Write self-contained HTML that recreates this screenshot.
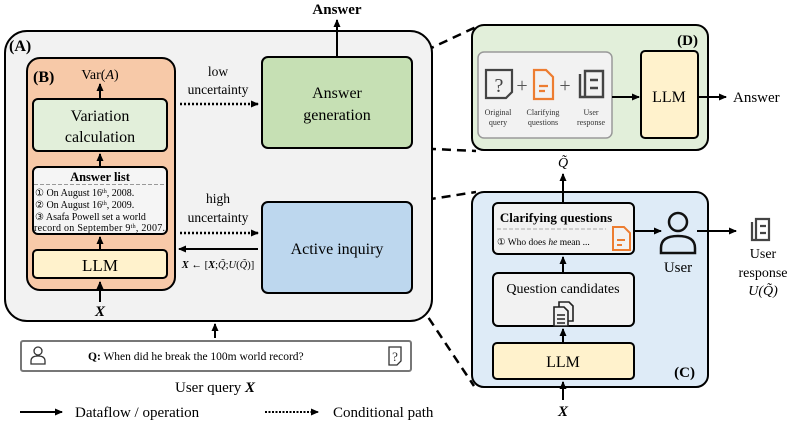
<!DOCTYPE html>
<html><head><meta charset="utf-8"><style>
html,body{margin:0;padding:0;background:#fff;}
svg{display:block;font-family:"Liberation Serif",serif;}
</style></head><body>
<svg width="789" height="427" viewBox="0 0 789 427" xmlns="http://www.w3.org/2000/svg">
<defs>
<marker id="ah" markerWidth="8" markerHeight="8" refX="7" refY="4" orient="auto" markerUnits="userSpaceOnUse"><path d="M0,0.5 L8,4 L0,7.5 z" fill="#000"/></marker>
</defs>
<g stroke="#000" stroke-width="2.5" stroke-dasharray="9,6" fill="none">
<line x1="412" y1="57" x2="476" y2="27"/>
<line x1="412" y1="148" x2="476" y2="151"/>
<line x1="412" y1="202" x2="476" y2="192"/>
<line x1="412" y1="293" x2="474" y2="386"/>
</g>
<rect x="5" y="31" width="427" height="290" rx="22" fill="#f2f2f2" stroke="#000" stroke-width="2"/>
<text x="9" y="51" font-size="16" font-weight="bold">(A)</text>
<rect x="27" y="58" width="148" height="232" rx="13" fill="#f7c9a8" stroke="#000" stroke-width="2"/>
<text x="33" y="82" font-size="16" font-weight="bold">(B)</text>
<text x="100" y="79" font-size="14" text-anchor="middle">Var(<tspan font-style="italic">A</tspan>)</text>
<line x1="100" y1="98" x2="100" y2="84" stroke="#000" stroke-width="2" marker-end="url(#ah)"/>
<rect x="33" y="99" width="134" height="52" rx="5" fill="#e2efda" stroke="#000" stroke-width="2"/>
<text x="100" y="121" font-size="16" text-anchor="middle">Variation</text>
<text x="100" y="142" font-size="16" text-anchor="middle">calculation</text>
<line x1="100" y1="166" x2="100" y2="154" stroke="#000" stroke-width="2" marker-end="url(#ah)"/>
<rect x="33" y="167" width="134" height="67" rx="5" fill="#f5f5f5" stroke="#000" stroke-width="2"/>
<text x="100" y="181" font-size="12.5" font-weight="bold" text-anchor="middle">Answer list</text>
<line x1="34" y1="184.5" x2="166" y2="184.5" stroke="#999" stroke-width="1" stroke-dasharray="4,2"/>
<g font-size="10">
<text x="35" y="196">① On August 16<tspan font-size="6" dy="-3">th</tspan><tspan dy="3">, 2008.</tspan></text>
<text x="35" y="208">② On August 16<tspan font-size="6" dy="-3">th</tspan><tspan dy="3">, 2009.</tspan></text>
<text x="35" y="220">③ Asafa Powell set a world</text>
<text x="34" y="231" textLength="131">record on September 9<tspan font-size="6" dy="-3">th</tspan><tspan dy="3">, 2007.</tspan></text>
</g>
<line x1="100" y1="249" x2="100" y2="237" stroke="#000" stroke-width="2" marker-end="url(#ah)"/>
<rect x="33" y="250" width="134" height="28" rx="4" fill="#fff2cc" stroke="#000" stroke-width="2"/>
<text x="100" y="271" font-size="17" text-anchor="middle">LLM</text>
<line x1="100" y1="302" x2="100" y2="282" stroke="#000" stroke-width="2" marker-end="url(#ah)"/>
<text x="100" y="316" font-size="15" font-weight="bold" font-style="italic" text-anchor="middle">X</text>
<text x="218" y="76" font-size="13.5" text-anchor="middle">low</text>
<text x="218" y="94" font-size="13.5" text-anchor="middle">uncertainty</text>
<line x1="180" y1="104" x2="258" y2="104" stroke="#000" stroke-width="2.5" stroke-dasharray="2,2" marker-end="url(#ah)"/>
<text x="218" y="203" font-size="13.5" text-anchor="middle">high</text>
<text x="218" y="222" font-size="13.5" text-anchor="middle">uncertainty</text>
<line x1="180" y1="233" x2="258" y2="233" stroke="#000" stroke-width="2.5" stroke-dasharray="2,2" marker-end="url(#ah)"/>
<line x1="258" y1="249" x2="179" y2="249" stroke="#000" stroke-width="2" marker-end="url(#ah)"/>
<text x="218" y="268" font-size="10.5" text-anchor="middle"><tspan font-weight="bold" font-style="italic">X</tspan> ← [<tspan font-weight="bold" font-style="italic">X</tspan>;<tspan font-style="italic">Q̃</tspan>;<tspan font-style="italic">U</tspan>(<tspan font-style="italic">Q̃</tspan>)]</text>
<rect x="262" y="57" width="150" height="91" rx="6" fill="#c6e0b4" stroke="#000" stroke-width="2"/>
<text x="337" y="98" font-size="16" text-anchor="middle">Answer</text>
<text x="337" y="120" font-size="16" text-anchor="middle">generation</text>
<line x1="337" y1="57" x2="337" y2="20" stroke="#000" stroke-width="2" marker-end="url(#ah)"/>
<text x="337" y="14" font-size="15" font-weight="bold" text-anchor="middle">Answer</text>
<rect x="262" y="202" width="150" height="91" rx="6" fill="#bdd7ee" stroke="#000" stroke-width="2"/>
<text x="337" y="254" font-size="16" text-anchor="middle">Active inquiry</text>
<line x1="215" y1="338" x2="215" y2="324" stroke="#000" stroke-width="2" marker-end="url(#ah)"/>
<rect x="21" y="341" width="390" height="30" rx="2" fill="#fff" stroke="#777" stroke-width="2"/>
<g stroke="#333" stroke-width="1.3" fill="none">
<circle cx="38" cy="351" r="4"/>
<path d="M31,364 v-3 q0,-5 7,-5 q7,0 7,5 v3 z"/>
<path d="M389,347 h12 v14 l-4,4 h-8 z"/>
</g>
<text x="395" y="361" font-size="13" text-anchor="middle" fill="#333">?</text>
<text x="88" y="360" font-size="11.5"><tspan font-weight="bold">Q:</tspan> When did he break the 100m world record?</text>
<text x="215" y="392" font-size="15" text-anchor="middle">User query <tspan font-weight="bold" font-style="italic">X</tspan></text>
<line x1="20" y1="412" x2="62" y2="412" stroke="#000" stroke-width="2" marker-end="url(#ah)"/>
<text x="75" y="417" font-size="15">Dataflow / operation</text>
<line x1="265" y1="412" x2="318" y2="412" stroke="#000" stroke-width="2" stroke-dasharray="2,1.5" marker-end="url(#ah)"/>
<text x="333" y="417" font-size="15">Conditional path</text>
<rect x="472" y="25" width="236" height="125" rx="12" fill="#e2efda" stroke="#000" stroke-width="2"/>
<text x="698" y="45" font-size="15" font-weight="bold" text-anchor="end">(D)</text>
<rect x="478" y="52" width="134" height="86" rx="6" fill="#f2f2f2" stroke="#999" stroke-width="1.5"/>
<g stroke="#444" stroke-width="2.2" fill="none">
<path d="M486,70 h26 v22 l-6,6 h-20 z"/>
</g>
<text x="499" y="92" font-size="20" text-anchor="middle" fill="#444">?</text>
<text x="522" y="92" font-size="20" text-anchor="middle" fill="#555">+</text>
<g stroke="#ed7d31" stroke-width="2.2" fill="none">
<path d="M534,70 h12 l7,7 v22 h-19 z"/>
<path d="M539,86 h9 M539,91 h6"/>
</g>
<text x="565" y="92" font-size="20" text-anchor="middle" fill="#555">+</text>
<g stroke="#444" stroke-width="2.4" fill="none">
<path d="M580,74 v23 h4"/><path d="M585,71 h18 v26 h-18 z"/><path d="M590,80 h8 M590,88 h8"/>
</g>
<g font-size="8" fill="#333" text-anchor="middle">
<text x="498" y="115">Original</text><text x="498" y="125">query</text>
<text x="543" y="115">Clarifying</text><text x="543" y="125">questions</text>
<text x="591" y="115">User</text><text x="591" y="125">response</text>
</g>
<line x1="612" y1="97" x2="639" y2="97" stroke="#000" stroke-width="2" marker-end="url(#ah)"/>
<rect x="641" y="51" width="57" height="87" rx="4" fill="#fff2cc" stroke="#000" stroke-width="2"/>
<text x="669" y="102" font-size="16" text-anchor="middle">LLM</text>
<line x1="698" y1="97" x2="726" y2="97" stroke="#000" stroke-width="2" marker-end="url(#ah)"/>
<text x="733" y="102" font-size="15">Answer</text>
<rect x="472" y="192" width="236" height="195" rx="12" fill="#deebf7" stroke="#000" stroke-width="2"/>
<text x="695" y="377" font-size="15" font-weight="bold" text-anchor="end">(C)</text>
<text x="563" y="167" font-size="14" font-style="italic" text-anchor="middle">Q̃</text>
<line x1="563" y1="203" x2="563" y2="174" stroke="#000" stroke-width="2" marker-end="url(#ah)"/>
<rect x="493" y="203" width="141" height="51" rx="5" fill="#f2f2f2" stroke="#000" stroke-width="2"/>
<text x="556" y="222" font-size="13" font-weight="bold" text-anchor="middle">Clarifying questions</text>
<line x1="497" y1="229" x2="606" y2="229" stroke="#aaa" stroke-width="1" stroke-dasharray="4,2"/>
<text x="497" y="245" font-size="9.5">① Who does <tspan font-style="italic">he</tspan> mean ...</text>
<g stroke="#ed7d31" stroke-width="2" fill="none">
<path d="M613,227 h11 l6,6 v17 h-17 z"/><path d="M617,240 h8 M617,245 h5"/>
</g>
<line x1="563" y1="273" x2="563" y2="257" stroke="#000" stroke-width="2" marker-end="url(#ah)"/>
<rect x="493" y="273" width="141" height="53" rx="5" fill="#f2f2f2" stroke="#000" stroke-width="2"/>
<text x="563" y="293" font-size="14" text-anchor="middle">Question candidates</text>
<g stroke="#222" stroke-width="1.6" fill="none">
<path d="M559,302 h10 l4,4 v15 h-14 z"/><path d="M554,307 h10 l4,4 v15 h-14 z" fill="#f2f2f2"/>
<path d="M557,315 h8 M557,319 h8 M557,323 h8"/>
</g>
<line x1="563" y1="343" x2="563" y2="329" stroke="#000" stroke-width="2" marker-end="url(#ah)"/>
<rect x="493" y="343" width="141" height="36" rx="4" fill="#fff2cc" stroke="#000" stroke-width="2"/>
<text x="563" y="367" font-size="16" text-anchor="middle">LLM</text>
<line x1="563" y1="400" x2="563" y2="382" stroke="#000" stroke-width="2" marker-end="url(#ah)"/>
<text x="563" y="416" font-size="15" font-weight="bold" font-style="italic" text-anchor="middle">X</text>
<line x1="634" y1="231" x2="661" y2="231" stroke="#000" stroke-width="2" marker-end="url(#ah)"/>
<g stroke="#111" stroke-width="2.5" fill="none">
<circle cx="678" cy="222" r="9"/>
<path d="M661,253 v-5 q0,-12 17,-12 q17,0 17,12 v5 z"/>
</g>
<text x="678" y="272" font-size="15" text-anchor="middle">User</text>
<line x1="697" y1="231" x2="736" y2="231" stroke="#000" stroke-width="2" marker-end="url(#ah)"/>
<g stroke="#444" stroke-width="2.2" fill="none">
<path d="M752,222 v18 h3"/><path d="M756,219 h13 v21 h-13 z"/><path d="M760,226 h6 M760,233 h6"/>
</g>
<g font-size="14" text-anchor="middle">
<text x="763" y="258">User</text>
<text x="763" y="277">response</text>
<text x="763" y="295" font-style="italic">U(Q̃)</text>
</g>
</svg>
</body></html>
